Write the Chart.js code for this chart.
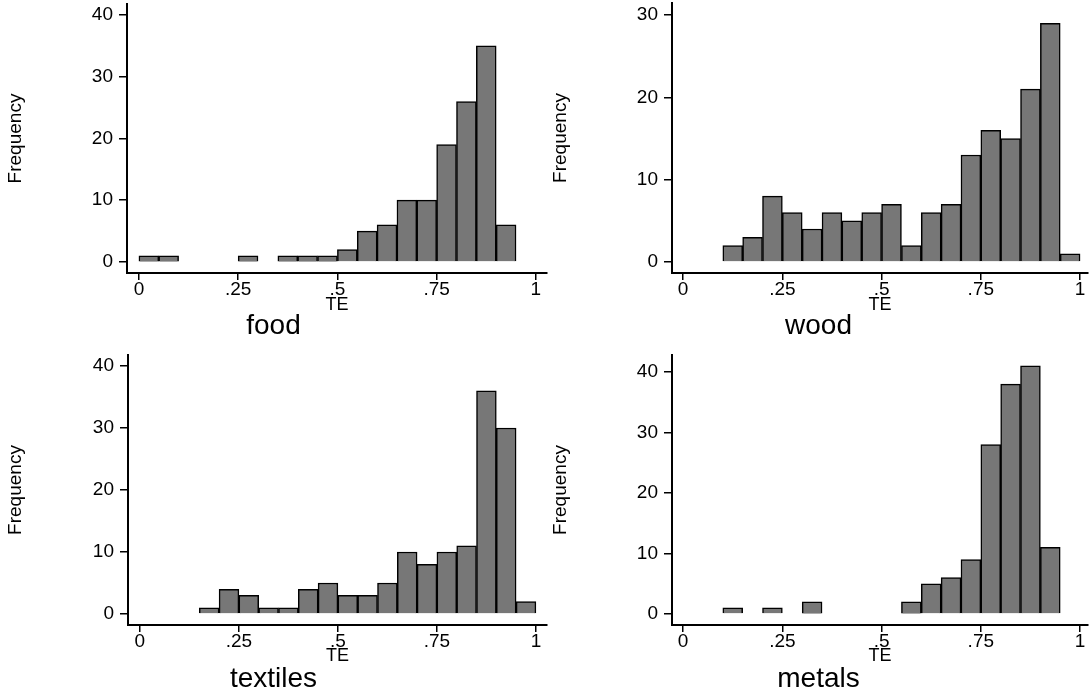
<!DOCTYPE html>
<html>
<head>
<meta charset="utf-8">
<script src="https://cdn.jsdelivr.net/npm/chart.js@4"></script>
<style>
  html, body { margin: 0; padding: 0; background: #fff; overflow: hidden; }
  body { width: 1089px; height: 694px; position: relative; }
  canvas { position: absolute; }
</style>
</head>
<body>
<canvas id="food" style="left:0px;top:0px" width="566" height="347"></canvas>
<canvas id="wood" style="left:549px;top:0px" width="554" height="347"></canvas>
<canvas id="textiles" style="left:0px;top:347px" width="566" height="347"></canvas>
<canvas id="metals" style="left:549px;top:347px" width="554" height="347"></canvas>
<script>
// bin midpoints of TE, width .05
const binMids = [0.025, 0.075, 0.125, 0.175, 0.225, 0.275, 0.325, 0.375, 0.425, 0.475,
                 0.525, 0.575, 0.625, 0.675, 0.725, 0.775, 0.825, 0.875, 0.925, 0.975];

const foodCounts     = [1, 1, 0, 0, 0, 1, 0, 1, 1, 1, 2, 5, 6, 10, 10, 19, 26, 35, 6, 0];
const woodCounts     = [0, 0, 2, 3, 8, 6, 4, 6, 5, 6, 7, 2, 6, 7, 13, 16, 15, 21, 29, 1];
const textilesCounts = [0, 0, 0, 1, 4, 3, 1, 1, 4, 5, 3, 3, 5, 10, 8, 10, 11, 36, 30, 2];
const metalsCounts   = [0, 0, 1, 0, 1, 0, 2, 0, 0, 0, 0, 2, 5, 6, 9, 28, 38, 41, 11, 0];

const xTicks = [0, 0.25, 0.5, 0.75, 1];
const xTickLabels = ['0', '.25', '.5', '.75', '1'];
const yTicks40 = [0, 10, 20, 30, 40];
const yTicks30 = [0, 10, 20, 30];

const FONT = '"Liberation Sans", Arial, Helvetica, sans-serif';
Chart.defaults.font.family = FONT;
Chart.defaults.color = '#000';

function histogram(id, label, counts, cfg) {
  const ctx = document.getElementById(id).getContext('2d');
  return new Chart(ctx, {
    type: 'bar',
    data: {
      datasets: [{
        label: label,
        data: binMids.map((m, i) => ({ x: m, y: counts[i] })),
        backgroundColor: '#777777',
        borderColor: '#000',
        borderWidth: 1.5,
        categoryPercentage: 1,
        barPercentage: 1
      }]
    },
    options: {
      responsive: false,
      animation: false,
      layout: { padding: { left: 0, top: cfg.padTop, right: cfg.padRight, bottom: 0 } },
      plugins: {
        legend: { display: false },
        tooltip: { enabled: false },
        title: {
          display: true,
          position: 'bottom',
          text: label,
          color: '#000',
          font: { size: 28, weight: 'normal', lineHeight: 1 },
          padding: { top: 0, bottom: cfg.titlePad }
        }
      },
      scales: {
        x: {
          type: 'linear',
          offset: false,
          min: cfg.xMin,
          max: cfg.xMax,
          grid: { display: true, drawOnChartArea: false, offset: false, color: '#000', lineWidth: 1.5, tickLength: 7 },
          border: { display: true, color: '#000', width: 2 },
          ticks: {
            font: { size: 19, lineHeight: 1 },
            padding: 0,
            maxRotation: 0,
            color: '#000',
            callback: (v) => xTickLabels[xTicks.indexOf(v)]
          },
          afterBuildTicks: (s) => { s.ticks = xTicks.map(v => ({ value: v })); },
          afterFit: (s) => { s.height = cfg.xAxisH; s.paddingLeft = 0; s.paddingRight = 0; },
          title: {
            display: true,
            text: 'TE',
            color: '#000',
            font: { size: 18, lineHeight: 0.8 },
            padding: { top: 0, bottom: cfg.tePad }
          }
        },
        y: {
          min: cfg.yMin,
          max: cfg.yMax,
          grid: { display: true, drawOnChartArea: false, color: '#000', lineWidth: 1.5, tickLength: 8 },
          border: { display: true, color: '#000', width: 2 },
          ticks: {
            font: { size: 19, lineHeight: 1 },
            padding: 6,
            color: '#000'
          },
          afterBuildTicks: (s) => { s.ticks = cfg.yTicks.map(v => ({ value: v })); },
          afterFit: (s) => { s.width = cfg.yAxisW; s.paddingTop = 0; s.paddingBottom = 0; },
          title: {
            display: true,
            text: 'Frequency',
            color: '#000',
            font: { size: 19, lineHeight: 1.2 },
            padding: { top: cfg.freqPad, bottom: 0 }
          }
        }
      }
    }
  });
}

histogram('food', 'food', foodCounts, {
  padTop: 4, padRight: 19, yAxisW: 127, xAxisH: 39, titlePad: 7, tePad: 0, freqPad: 4,
  xMin: -0.03, xMax: 1.028, yMin: -1.8, yMax: 41.8, yTicks: yTicks40
});
histogram('wood', 'wood', woodCounts, {
  padTop: 3, padRight: 15, yAxisW: 123, xAxisH: 39, titlePad: 7, tePad: 0, freqPad: 0,
  xMin: -0.028, xMax: 1.02, yMin: -1.34, yMax: 31.46, yTicks: yTicks30
});
histogram('textiles', 'textiles', textilesCounts, {
  padTop: 8, padRight: 19, yAxisW: 128, xAxisH: 40, titlePad: 1, tePad: 1.3, freqPad: 4,
  xMin: -0.03, xMax: 1.028, yMin: -1.77, yMax: 41.77, yTicks: yTicks40
});
histogram('metals', 'metals', metalsCounts, {
  padTop: 8, padRight: 15, yAxisW: 123, xAxisH: 40, titlePad: 1, tePad: 1.3, freqPad: 0,
  xMin: -0.028, xMax: 1.02, yMin: -1.82, yMax: 42.8, yTicks: yTicks40
});
</script>
</body>
</html>
